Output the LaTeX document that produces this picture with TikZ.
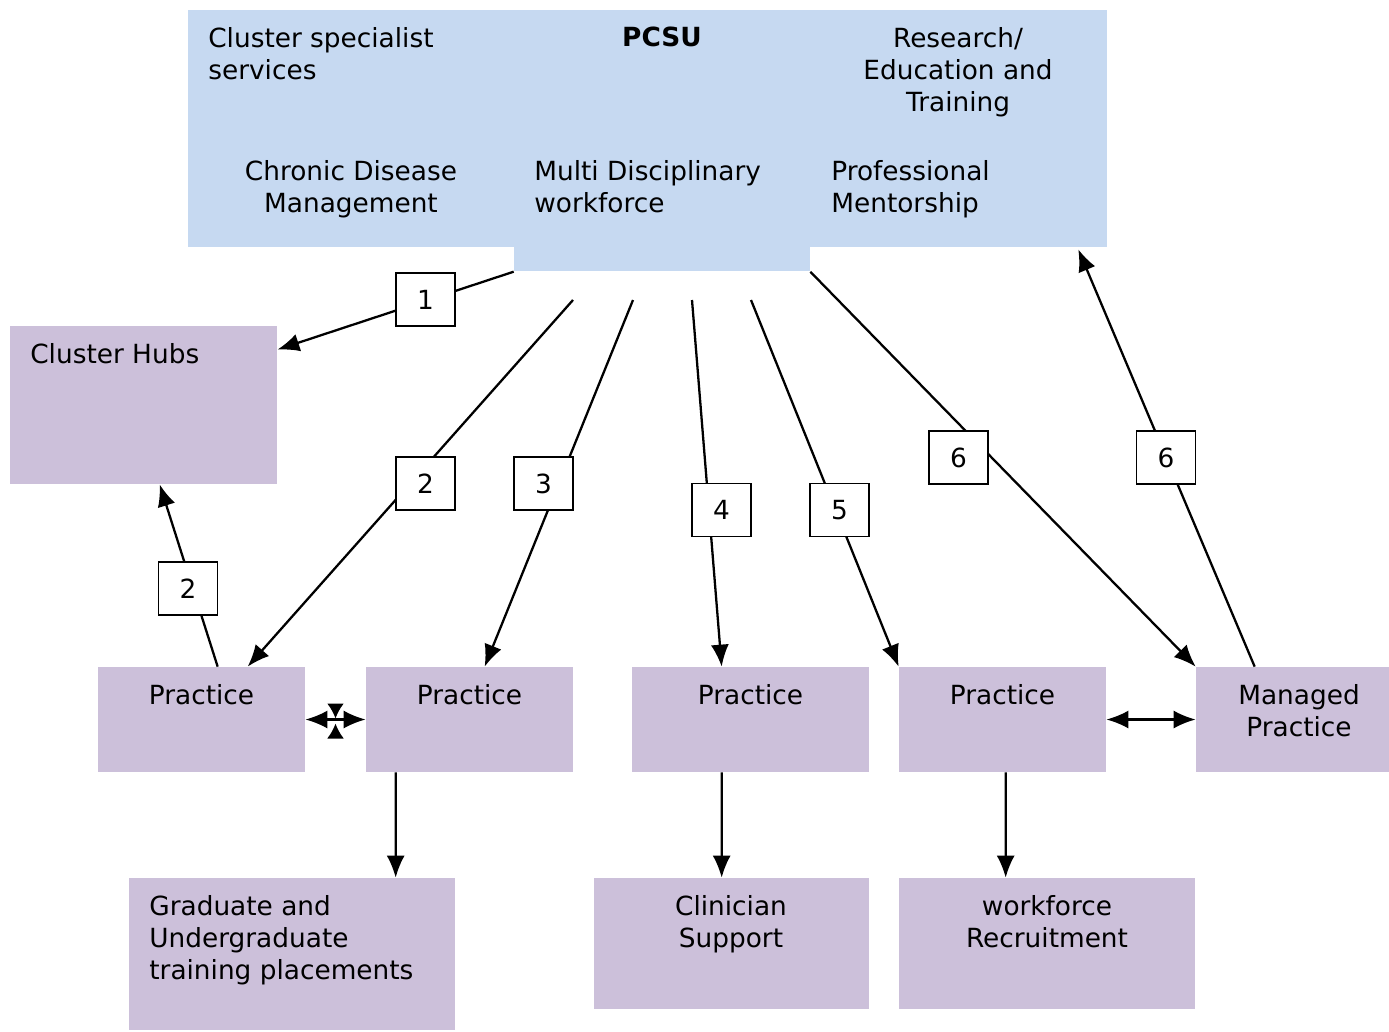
\documentclass[tikz,border=0pt]{standalone}
\usepackage{fontspec}
\setmainfont{DejaVu Sans}
\usetikzlibrary{arrows.meta,positioning,calc}
\definecolor{pcsublue}{HTML}{C6D9F1}
\definecolor{hubpurple}{HTML}{CCC0DA}
\tikzstyle{unit} = [rectangle, fill=pcsublue, draw=none, inner sep=0pt]
\tikzstyle{pbox} = [rectangle, fill=hubpurple, draw=none, inner sep=0pt, minimum height=2.1cm]
\tikzstyle{num} = [rectangle, draw=black, fill=white, line width=1.1pt, minimum width=1.18cm, minimum height=1.06cm, inner sep=0pt]
\tikzstyle{txt} = [inner sep=0pt, align=center]
\tikzstyle{link} = [line width=1.3pt]

\begin{document}
\begin{tikzpicture}[x=0.02cm, y=-0.02cm, font=\fontsize{15}{18.2}\selectfont, >={Latex[length=4.4mm,width=3.6mm]}]
	\useasboundingbox (0,0) rectangle (1389,1031);
	
	% PCSU
	\node[unit, minimum width=18.38cm, minimum height=4.74cm] (pcsu) at (647.5,128.5) {};
	\node[unit, minimum width=5.92cm, minimum height=0.6cm, anchor=north] (tab) at (662,241) {};
	
	\node[txt, anchor=north west, align=left] (css) at (208,27) {Cluster specialist\\services};
	\node[txt, anchor=north, font=\fontsize{15}{18.2}\selectfont\bfseries] (title) at (662,27) {PCSU};
	\node[txt, anchor=north] (ret) at (958,27) {Research/\\Education and\\Training};
	\node[txt, anchor=north] (cdm) at (351,160) {Chronic Disease\\Management};
	\node[txt, anchor=north west, align=left] (mdw) at (534,160) {Multi Disciplinary\\workforce};
	\node[txt, anchor=north west, align=left] (pm) at (831,160) {Professional\\Mentorship};
	
	% boxes
	\node[pbox, minimum width=5.34cm, minimum height=3.16cm] (hubs) at (143.5,405) {};
	\node[txt, anchor=north west] (hubstxt) at (30,343) {Cluster Hubs};
	
	\node[pbox, minimum width=4.14cm] (p1) at (201.5,719.5) {};
	\node[pbox, minimum width=4.14cm] (p2) at (469.5,719.5) {};
	\node[pbox, minimum width=4.74cm] (p3) at (750.5,719.5) {};
	\node[pbox, minimum width=4.14cm] (p4) at (1002.5,719.5) {};
	\node[pbox, minimum width=3.86cm] (mp) at (1292.5,719.5) {};
	\node[txt, below=0.34cm of p1.north] (p1txt) {Practice};
	\node[txt, below=0.34cm of p2.north] (p2txt) {Practice};
	\node[txt, below=0.34cm of p3.north] (p3txt) {Practice};
	\node[txt, below=0.34cm of p4.north] (p4txt) {Practice};
	\node[txt, anchor=north] (mptxt) at (1299,684) {Managed\\Practice};
	
	\node[pbox, minimum width=6.52cm, minimum height=3.04cm] (grad) at (292,954) {};
	\node[pbox, minimum width=5.5cm, minimum height=2.62cm] (clin) at (731.5,943.5) {};
	\node[pbox, minimum width=5.92cm, minimum height=2.62cm] (recr) at (1047,943.5) {};
	\node[txt, anchor=north west, align=left] (gradtxt) at (149,895) {Graduate and\\Undergraduate\\training placements};
	\node[txt, anchor=north] (clintxt) at (731,895) {Clinician\\Support};
	\node[txt, anchor=north] (recrtxt) at (1047,895) {workforce\\Recruitment};
	
	% start points
	\coordinate (s2) at (573,300);
	\coordinate (s3) at (633,300);
	\coordinate (s4) at (692,300);
	\coordinate (s5) at (751,300);
	\coordinate (m12) at ($(p1.east)!0.5!(p2.west)$);
	
	%arrow
	\draw[->, link] (tab.south west) -- ($(hubs.north east)+(0,24)$);
	\draw[->, link] ($(p1.north west)+(120,0)$) -- ($(hubs.south west)+(150,0)$);
	\draw[->, link] (s2) -- ($(p1.north west)+(150,0)$);
	\draw[->, link] (s3) -- ($(p2.north west)+(119,0)$);
	\draw[->, link] (s4) -- ($(p3.north west)+(90,0)$);
	\draw[->, link] (s5) -- (p4.north west);
	\draw[->, link] (tab.south east) -- (mp.north west);
	\draw[->, link] ($(mp.north west)+(59,0)$) -- ($(pcsu.south east)+(-29,2)$);
	
	\draw[<->, link] (p1.east) -- (p2.west);
	\draw[link, -{Latex[length=3mm,width=3.4mm]}] ($(m12)+(0,-12)$) -- ($(m12)+(0,-1)$);
	\draw[link, -{Latex[length=3mm,width=3.4mm]}] ($(m12)+(0,18)$) -- ($(m12)+(0,4)$);
	\draw[<->, link] (p4.east) -- (mp.west);
	
	\draw[->, link] ($(p2.south west)+(30,0)$) -- ($(grad.north west)+(267,0)$);
	\draw[->, link] ($(p3.south west)+(90,0)$) -- ($(clin.north west)+(128,0)$);
	\draw[->, link] ($(p4.south west)+(107,0)$) -- ($(recr.north west)+(107,0)$);
	
	% numbers
	\node[num] (n1) at (425.5,299.5) {1};
	\node[num] (n2a) at (188,588.5) {2};
	\node[num] (n2b) at (425.5,483.5) {2};
	\node[num] (n3) at (543.5,483.5) {3};
	\node[num] (n4) at (721.5,510) {4};
	\node[num] (n5) at (839.5,510) {5};
	\node[num] (n6a) at (958.5,457.5) {6};
	\node[num] (n6b) at (1166,457.5) {6};
	
\end{tikzpicture}
\end{document}
